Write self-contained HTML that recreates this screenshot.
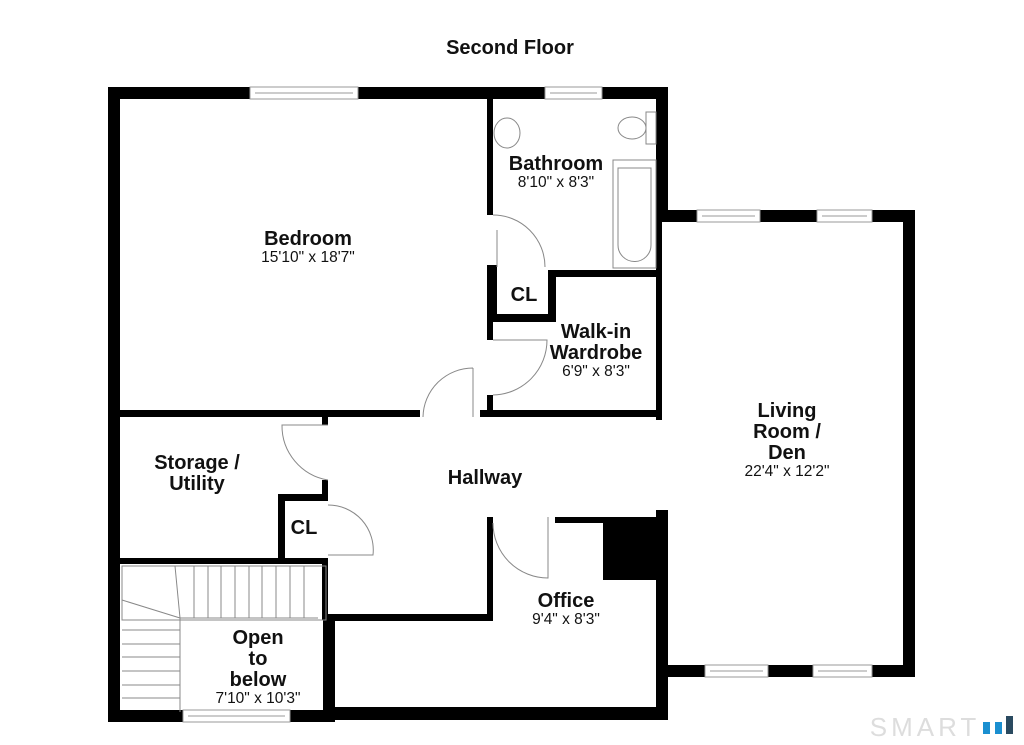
<!DOCTYPE html>
<html><head><meta charset="utf-8"><style>
html,body{margin:0;padding:0;background:#fff}
svg{display:block}
text{font-family:"Liberation Sans",Arial,sans-serif;fill:#111;text-anchor:middle}
.t{font-weight:bold;font-size:20px}
.d{font-size:15.5px}
</style></head><body>
<svg width="1024" height="745" viewBox="0 0 1024 745">
<text x="510" y="54" class="t" style="font-size:20px">Second Floor</text>
<g fill="#000">
<rect x="108" y="87" width="560" height="12"/>
<rect x="108" y="87" width="12" height="635"/>
<rect x="656" y="87" width="12" height="135"/>
<rect x="656" y="210" width="259" height="12"/>
<rect x="903" y="210" width="12" height="467"/>
<rect x="656" y="665" width="259" height="12"/>
<rect x="656" y="510" width="12" height="210"/>
<rect x="656" y="222" width="6" height="198"/>
<rect x="323" y="707" width="345" height="13"/>
<rect x="108" y="710" width="227" height="12"/>
<rect x="323" y="620" width="12" height="102"/>
<rect x="120" y="410" width="300" height="7"/>
<rect x="480" y="410" width="182" height="7"/>
<rect x="487" y="99" width="6" height="116"/>
<rect x="487" y="265" width="10" height="55"/>
<rect x="487" y="314" width="69" height="8"/>
<rect x="548" y="272" width="8" height="50"/>
<rect x="548" y="270" width="114" height="7"/>
<rect x="487" y="322" width="6" height="18"/>
<rect x="487" y="395" width="6" height="22"/>
<rect x="322" y="417" width="6" height="8"/>
<rect x="322" y="480" width="6" height="20"/>
<rect x="278" y="494" width="50" height="7"/>
<rect x="278" y="494" width="7" height="70"/>
<rect x="120" y="558" width="208" height="6"/>
<rect x="322" y="558" width="6" height="62"/>
<rect x="328" y="614" width="165" height="7"/>
<rect x="487" y="517" width="6" height="104"/>
<rect x="555" y="517" width="107" height="6"/>
<rect x="603" y="517" width="56" height="63"/>
</g>
<g fill="#fff" stroke="#999" stroke-width="1">
<rect x="250" y="87" width="108" height="12"/><line x1="255" y1="93" x2="353" y2="93"/>
<rect x="545" y="87" width="57" height="12"/><line x1="550" y1="93" x2="597" y2="93"/>
<rect x="697" y="210" width="63" height="12"/><line x1="702" y1="216" x2="755" y2="216"/>
<rect x="817" y="210" width="55" height="12"/><line x1="822" y1="216" x2="867" y2="216"/>
<rect x="705" y="665" width="63" height="12"/><line x1="710" y1="671" x2="763" y2="671"/>
<rect x="813" y="665" width="59" height="12"/><line x1="818" y1="671" x2="867" y2="671"/>
<rect x="183" y="710" width="107" height="12"/><line x1="188" y1="716" x2="285" y2="716"/>
</g>
<g fill="none" stroke="#888" stroke-width="1">
<path d="M493 215 A52 52 0 0 1 545 267"/><path d="M497 230 L497 267"/>
<path d="M493 340 L547 340 A55 55 0 0 1 493 395"/>
<path d="M473 368 L473 417 M473 368 A50 50 0 0 0 423 417"/>
<path d="M328 425 L282 425 A55 55 0 0 0 328 480"/>
<path d="M328 505 A45 45 0 0 1 373 555 L328 555"/>
<path d="M493 523 A55 55 0 0 0 548 578 L548 517"/>
<ellipse cx="507" cy="133" rx="13" ry="15"/>
<rect x="613" y="160" width="43" height="108"/>
<path d="M618 168 L651 168 L651 245 A16 16 0 0 1 618 245 Z"/>
<ellipse cx="632" cy="128" rx="14" ry="11"/>
<rect x="646" y="112" width="10" height="32"/>
<rect x="122" y="566" width="204" height="54"/>
<path d="M180 618 L180 712 M180 618 L318 618 M175 566 L180 618 M122 600 L180 618"/>
<path d="M194 566V618M208 566V618M221 566V618M235 566V618M249 566V618M262 566V618M276 566V618M290 566V618M304 566V618"/>
<path d="M122 630H180M122 644H180M122 657H180M122 671H180M122 685H180M122 698H180"/>
</g>
<text x="308" y="245" class="t">Bedroom</text><text x="308" y="262" class="d">15'10" x 18'7"</text>
<text x="556" y="170" class="t">Bathroom</text><text x="556" y="187" class="d">8'10" x 8'3"</text>
<text x="524" y="301" class="t">CL</text>
<text x="596" y="338" class="t">Walk-in</text><text x="596" y="359" class="t">Wardrobe</text><text x="596" y="376" class="d">6'9" x 8'3"</text>
<text x="787" y="417" class="t">Living</text><text x="787" y="438" class="t">Room /</text><text x="787" y="459" class="t">Den</text><text x="787" y="476" class="d">22'4" x 12'2"</text>
<text x="197" y="469" class="t">Storage /</text><text x="197" y="490" class="t">Utility</text>
<text x="485" y="484" class="t">Hallway</text>
<text x="304" y="534" class="t">CL</text>
<text x="566" y="607" class="t">Office</text><text x="566" y="624" class="d">9'4" x 8'3"</text>
<text x="258" y="644" class="t">Open</text><text x="258" y="665" class="t">to</text><text x="258" y="686" class="t">below</text><text x="258" y="703" class="d">7'10" x 10'3"</text>
<text x="925" y="736" style="font-size:26px;fill:#ddd;letter-spacing:4px">SMART</text>
<rect x="983" y="722" width="7" height="12" fill="#1a8fd0"/>
<rect x="995" y="722" width="7" height="12" fill="#1a8fd0"/>
<rect x="1006" y="716" width="7" height="18" fill="#2a4a60"/>
</svg>
</body></html>
